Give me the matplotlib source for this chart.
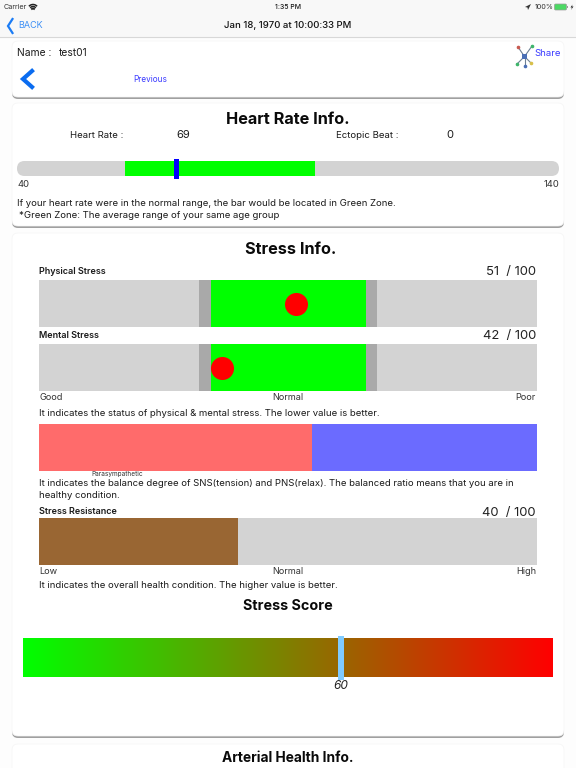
import numpy as np
import matplotlib
matplotlib.use("Agg")
import matplotlib.pyplot as plt
from matplotlib.patches import FancyBboxPatch, Rectangle, Polygon
from matplotlib.colors import LinearSegmentedColormap

plt.rcParams['font.family'] = ['Inter', 'DejaVu Sans']

# ---- data ----
heart_rate = 69
ectopic = 0
hr_range = [40, 140]
hr_green = [60, 95]
stress_dark = [32.2, 67.8]
stress_green = [34.5, 65.6]
physical_label, mental_label = 51, 42
physical_pos, mental_pos = 51.6, 36.7
sns_share = 54.8
resistance = 40
stress_score = 60

W, H = 576, 768
fig = plt.figure(figsize=(5.76, 7.68), dpi=100, facecolor='#fdfdfd')
px = fig.add_axes([0, 0, 1, 1])
px.set_xlim(0, W); px.set_ylim(H, 0); px.axis('off')

GREY = '#d3d3d3'; INK = '#1a1a1a'; BLUE = '#3b3bff'; IOS = '#1b7cf5'


def T(x, y, s, size=7.2, weight='normal', ha='left', color=INK, style='normal', zorder=10):
    px.text(x, y + 1, s, fontsize=size, fontweight=weight, ha=ha, va='center', color=color,
            style=style, zorder=zorder)


def card(y0, y1, shadow=True):
    if shadow:
        px.add_patch(FancyBboxPatch((12, y0 + 3), 552, y1 - y0 - 1, boxstyle='round,pad=0,rounding_size=6',
                                    fc='#a0a0a0', ec='none', zorder=1))
    px.add_patch(FancyBboxPatch((12, y0), 552, y1 - y0, boxstyle='round,pad=0,rounding_size=6',
                                fc='white', ec='#f5f5f5', lw=0.5, zorder=2))


def bar_ax(x0, y0, x1, y1, xlim):
    ax = fig.add_axes([x0 / W, 1 - y1 / H, (x1 - x0) / W, (y1 - y0) / H])
    ax.set_xlim(*xlim); ax.set_ylim(0, 1); ax.axis('off')
    ax.patch.set_alpha(0)
    return ax


# nav bar
px.add_patch(Rectangle((0, 0), W, 37, fc='#f8f8f8', ec='none', zorder=1))
px.plot([0, W], [37, 37], color='#d8d8d8', lw=0.8, zorder=2)
T(4, 6, 'Carrier', 5.2, color='#333333')
for r, lw in zip([1.5, 3.5, 5.5], [1.4, 1.1, 1.1]):
    th = np.radians(np.linspace(50, 130, 12))
    px.plot(33 + r * np.cos(th), 10 - r * np.sin(th), color='#222222', lw=lw, zorder=10)
T(288, 6, '1:35 PM', 5.0, weight='medium', ha='center')
px.add_patch(Polygon([[525, 7], [531, 4], [528, 10], [527.5, 7.5]], fc='#333333', ec='none', zorder=10))
T(535, 6, '100%', 5.2, color='#333333')
px.add_patch(FancyBboxPatch((554.5, 4), 12, 6, boxstyle='round,pad=0,rounding_size=1.2',
                            fc='#4cd964', ec='#9a9a9a', lw=0.5, zorder=10))
px.add_patch(Rectangle((567, 6), 1, 2, fc='#999999', ec='none', zorder=10))
px.add_patch(Polygon([[572.5, 4.5], [570.5, 7.5], [572, 7.5], [571, 10], [573.5, 6.5], [572, 6.5]],
                     fc='#222222', ec='none', zorder=10))
px.plot([12.5, 8, 12.5], [19, 26, 33], color=IOS, lw=1.6, solid_joinstyle='miter', zorder=10)
T(18, 25, 'BACK', 6.5, color='#3d8ff5')
T(288, 25, 'Jan 18, 1970 at 10:00:33 PM', 6.9, weight='medium', ha='center', color='#111111')

# cards
card(41, 97)
card(103, 226)
card(233, 736)
card(744, 790, shadow=False)

# header card
T(17, 52, 'Name :', 7.4)
T(59, 52, 'test01', 7.4)
T(534, 52, 'Share', 6.9, color=BLUE)
px.add_patch(Rectangle((522, 54), 5, 5, fc='#4a6fb5', ec='none', zorder=10))
for (x, y, c) in [(518, 47, '#c85a50'), (532, 46, '#3fb56b'), (517, 64, '#3fb56b'),
                  (524.5, 66, '#4a6fb5'), (531, 63, '#d8c04a')]:
    px.plot([524.5, x], [56.5, y], color='#6d7f93', lw=0.8, zorder=9)
    px.plot([x], [y], 'o', color=c, ms=1.6, zorder=10)
px.plot([32, 23, 32], [71, 79, 87], color='#0a6cf0', lw=3.0, solid_joinstyle='miter', zorder=10)
T(133, 78, 'Previous', 5.9, color=BLUE)

# heart rate
T(288, 118.5, 'Heart Rate Info.', 11.7, weight='bold', ha='center', color='#0a0a0a')
T(70, 134, 'Heart Rate :', 6.9)
T(183, 134, str(heart_rate), 8, ha='center')
T(336, 134, 'Ectopic Beat :', 6.9)
T(450, 134, str(ectopic), 8, ha='center')
px.add_patch(FancyBboxPatch((17, 161), 542, 15, boxstyle='round,pad=0,rounding_size=7.5',
                            fc=GREY, ec='none', zorder=3))
ax = bar_ax(17, 161, 559, 176, hr_range)
ax.barh(0.5, hr_green[1] - hr_green[0], left=hr_green[0], height=1, color='#00ff00')
ax.barh(0.5, 1.0, left=heart_rate - 0.5 + 0.4, height=20 / 15, color='#0000ff', clip_on=False)
T(17, 183.5, str(hr_range[0]), 6.8, color='#333333')
T(559, 183.5, str(hr_range[1]), 6.8, ha='right', color='#333333')
T(17, 202, 'If your heart rate were in the normal range, the bar would be located in Green Zone.', 6.88)
T(19, 214, '*Green Zone: The average range of your same age group', 6.88)

# stress
T(290.5, 248.5, 'Stress Info.', 11.7, weight='bold', ha='center', color='#0a0a0a')


def stress_bar(y0, label, val, pos):
    T(39, y0 - 10, label, 6.5, weight='semibold')
    T(536, y0 - 9, f'{val}  / 100', 9.4, ha='right', color='#222222')
    a = bar_ax(39, y0, 537, y0 + 47, (0, 100))
    a.barh(0.5, 100, left=0, height=1, color=GREY)
    a.barh(0.5, stress_dark[1] - stress_dark[0], left=stress_dark[0], height=1, color='#a9a9a9')
    a.barh(0.5, stress_green[1] - stress_green[0], left=stress_green[0], height=1, color='#00ff00')
    a.scatter([pos], [0.5], s=275, color='#ff0000', linewidths=0, zorder=5)


stress_bar(280, 'Physical Stress', physical_label, physical_pos)
stress_bar(344, 'Mental Stress', mental_label, mental_pos)
T(39, 396, 'Good', 6.6, color='#333333')
T(288, 396, 'Normal', 6.6, ha='center', color='#333333')
T(536, 396, 'Poor', 6.6, ha='right', color='#333333')
T(39, 412, 'It indicates the status of physical & mental stress. The lower value is better.', 6.88)

a = bar_ax(39, 424, 537, 471, (0, 100))
a.barh(0.5, sns_share, left=0, height=1, color='#ff6b6b')
a.barh(0.5, 100 - sns_share, left=sns_share, height=1, color='#6b6bff')
T(91, 473, 'Parasympathetic', 4.7, color='#333333')
T(39, 483, 'It indicates the balance degree of SNS(tension) and PNS(relax). The balanced ratio means that you are in', 6.88)
T(39, 495, 'healthy condition.', 6.88)

T(39, 511, 'Stress Resistance', 6.5, weight='semibold')
T(536, 512, f'{resistance}  / 100', 9.4, ha='right', color='#222222')
a = bar_ax(39, 518, 537, 565, (0, 100))
a.barh(0.5, 100, left=0, height=1, color=GREY)
a.barh(0.5, resistance, left=0, height=1, color='#996633')
T(39, 570, 'Low', 6.6, color='#333333')
T(288, 570, 'Normal', 6.6, ha='center', color='#333333')
T(536, 570, 'High', 6.6, ha='right', color='#333333')
T(39, 585, 'It indicates the overall health condition. The higher value is better.', 6.88)

# stress score
T(288, 605, 'Stress Score', 10.3, weight='bold', ha='center', color='#0a0a0a')
a = bar_ax(23, 638, 553, 677, (0, 100))
cmap = LinearSegmentedColormap.from_list('gr', ['#00ff00', '#ff0000'])
a.imshow(np.linspace(0, 1, 256)[None, :], cmap=cmap, extent=(0, 100, 0, 1), aspect='auto')
a.set_xlim(0, 100); a.set_ylim(0, 1)
a.barh(0.5, 1.0, left=stress_score - 0.5, height=44 / 39, color='#7fcbff', clip_on=False, zorder=5)
T(341, 685, str(stress_score), 8.6, ha='center', style='italic', color='#222222')

T(288, 757, 'Arterial Health Info.', 9.9, weight='bold', ha='center', color='#0a0a0a')

fig.savefig('out.png', dpi=100, facecolor=fig.get_facecolor())
